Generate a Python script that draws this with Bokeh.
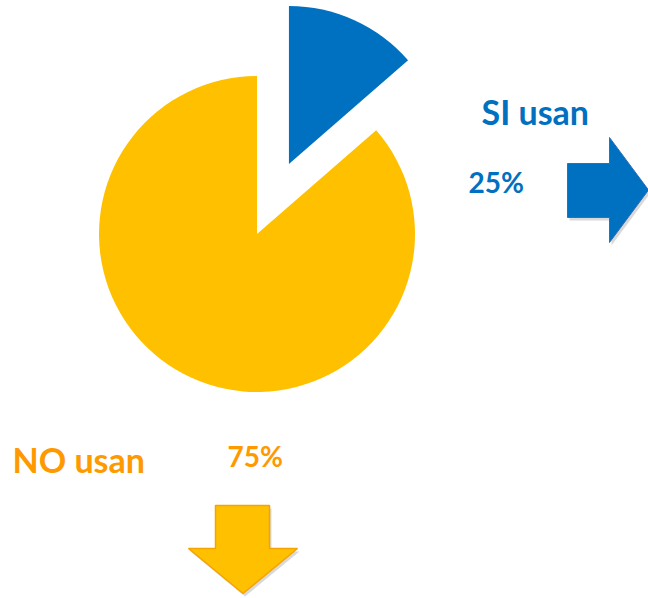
import math
from bokeh.plotting import figure
from bokeh.models import Range1d, ColumnDataSource
from bokeh.core.properties import value
from bokeh.embed import file_html
from bokeh.resources import INLINE

# ---- data ----
categories = ["SI usan", "NO usan"]
pct_labels = ["25%", "75%"]
slice_shares = [13.6, 86.4]          # drawn slice sizes (percent of the circle)
slice_colors = ["#0070C0", "#FFC000"]
text_colors = ["#0070C0", "#FF9900"]

W, H = 648, 598
p = figure(width=W, height=H, output_backend="svg", toolbar_location=None,
           x_range=Range1d(0, W), y_range=Range1d(0, H),
           min_border=0)
p.axis.visible = False
p.grid.visible = False
p.outline_line_color = None
p.background_fill_color = "white"
p.border_fill_color = "white"

def Y(sy):
    return 598 - sy

# ---- pie ----
cx, cy, r = 256.5, Y(233.5), 158
explode = 77
total = sum(slice_shares)
start = 90.0
xs, ys, sa, ea = [], [], [], []
for i, s in enumerate(slice_shares):
    span = 360.0 * s / total
    a0 = start - span
    a1 = start
    mid = math.radians((a0 + a1) / 2)
    off = explode if i == 0 else 0
    xs.append(cx + off * math.cos(mid))
    ys.append(cy + off * math.sin(mid))
    sa.append(math.radians(a0))
    ea.append(math.radians(a1))
    start = a0
src = ColumnDataSource(dict(x=xs, y=ys, sa=sa, ea=ea, color=slice_colors))
p.wedge(x="x", y="y", radius=r, start_angle="sa", end_angle="ea",
        fill_color="color", line_color=None, source=src)

# ---- arrows ----
def right_arrow(x0, ytop, ybot, xh, yht, yhb, xt):
    ym = (yht + yhb) / 2
    return ([x0, xh, xh, xt, xh, xh, x0],
            [Y(ytop), Y(ytop), Y(yht), Y(ym), Y(yhb), Y(ybot), Y(ybot)])

def down_arrow(xl, xr, ytop, yh, xhl, xhr, yt):
    xm = (xhl + xhr) / 2
    return ([xl, xr, xr, xhr, xm, xhl, xl],
            [Y(ytop), Y(ytop), Y(yh), Y(yh), Y(yt), Y(yh), Y(yh)])

bx, by = right_arrow(567, 163, 217, 609, 137, 242, 648)
dx_, dy_ = down_arrow(215, 269, 505, 548, 188, 297, 593)
# soft shadows
p.patch([x + 2 for x in bx], [y - 3 for y in by], fill_color="#000000",
        fill_alpha=0.15, line_color=None)
p.patch([x + 2 for x in dx_], [y - 3 for y in dy_], fill_color="#000000",
        fill_alpha=0.15, line_color=None)
p.patch(bx, by, fill_color="#0070C0", line_color="#2F6FB8", line_width=1)
p.patch(dx_, dy_, fill_color="#FFC000", line_color="#F5A300", line_width=1.5)

# ---- texts ----
font = value("Lato")
p.text(x=[481], y=[Y(111)], text=[categories[0]], text_font=font,
       text_font_style="bold", text_font_size="34px", text_color=text_colors[0],
       text_align="left", text_baseline="alphabetic")
p.text(x=[468], y=[Y(181)], text=[pct_labels[0]], text_font=font,
       text_font_style="bold", text_font_size="28px", text_color=text_colors[0],
       text_align="left", text_baseline="alphabetic")
p.text(x=[12], y=[Y(459)], text=[categories[1]], text_font=font,
       text_font_style="bold", text_font_size="34px", text_color=text_colors[1],
       text_align="left", text_baseline="alphabetic")
p.text(x=[227], y=[Y(455)], text=[pct_labels[1]], text_font=font,
       text_font_style="bold", text_font_size="28px", text_color=text_colors[1],
       text_align="left", text_baseline="alphabetic")

open("out.html", "w").write(file_html(p, INLINE))
